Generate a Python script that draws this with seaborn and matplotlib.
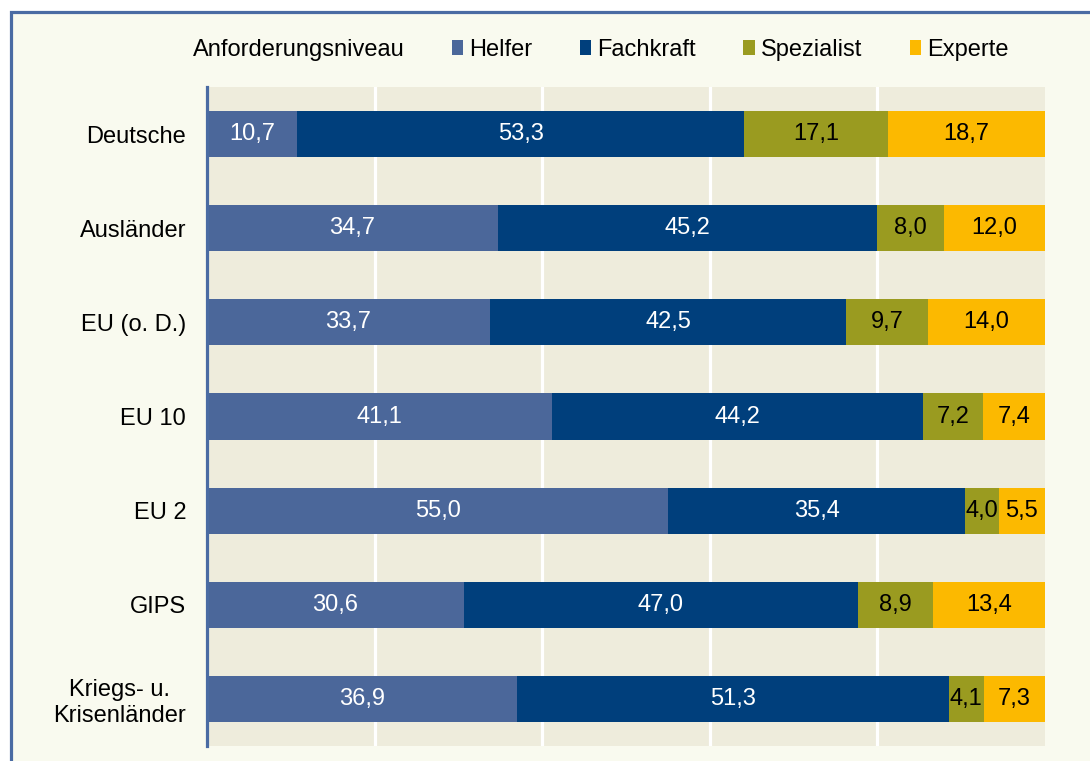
import matplotlib
matplotlib.use("Agg")
import matplotlib.pyplot as plt
from matplotlib.patches import Rectangle, Patch
from matplotlib.lines import Line2D
import seaborn as sns
import pandas as pd
import numpy as np

categories = ["Deutsche", "Ausländer", "EU (o. D.)", "EU 10", "EU 2", "GIPS",
              "Kriegs- u.\nKrisenländer"]
levels = ["Helfer", "Fachkraft", "Spezialist", "Experte"]
helfer = [10.7, 34.7, 33.7, 41.1, 55.0, 30.6, 36.9]
fachkraft = [53.3, 45.2, 42.5, 44.2, 35.4, 47.0, 51.3]
spezialist = [17.1, 8.0, 9.7, 7.2, 4.0, 8.9, 4.1]
experte = [18.7, 12.0, 14.0, 7.4, 5.5, 13.4, 7.3]
legend_title = "Anforderungsniveau"

colors = ["#4B679A", "#003F7C", "#9A9B20", "#FCB900"]
text_colors = ["white", "white", "black", "black"]

sns.set_theme(style="white")
plt.rcParams["font.family"] = ["Liberation Sans", "DejaVu Sans"]
plt.rcParams["text.color"] = "black"
plt.rcParams["ytick.color"] = "black"
plt.rcParams["ytick.labelcolor"] = "black"

vals = np.array([helfer, fachkraft, spezialist, experte])
totals = vals.sum(axis=0)
shares = vals / totals * 100.0
cums = np.cumsum(shares, axis=0)

fig = plt.figure(figsize=(10.9, 7.61), dpi=100, facecolor="white")
fig.patches.append(Rectangle((10.5 / 1090, -0.02), 1.05, 1 - 11.5 / 761 + 0.02,
                             transform=fig.transFigure, facecolor="#F9FAEF",
                             edgecolor="#4A6BA3", linewidth=2.3, zorder=-10))
ax = fig.add_axes([207 / 1090, 1 - 746 / 761, (1045 - 207) / 1090, (746 - 87) / 761])
ax.set_zorder(1)
ax.set_facecolor("#EEECDC")

for i in range(len(levels) - 1, -1, -1):
    df = pd.DataFrame({"cat": categories, "cum": cums[i]})
    sns.barplot(data=df, x="cum", y="cat", color=colors[i], width=0.49,
                saturation=1, ax=ax, orient="h", zorder=3, linewidth=0)

for i in range(len(levels)):
    for j, cat in enumerate(categories):
        center = cums[i, j] - shares[i, j] / 2
        ax.text(center, j, f"{vals[i, j]:.1f}".replace(".", ","), ha="center",
                va="center", color=text_colors[i], fontsize=17, zorder=5)

ax.set_xlim(0, 100)
ax.set_ylim(len(categories) - 0.5, -0.5)
ax.set_xticks([20, 40, 60, 80])
ax.set_xticklabels([])
ax.grid(axis="x", color="white", linewidth=2.3, zorder=1)
ax.set_axisbelow(True)
ax.set_xlabel("")
ax.set_ylabel("")
ax.tick_params(axis="y", length=0, pad=15, labelsize=17, labelcolor="black")
ax.tick_params(axis="x", length=0)
for lab in ax.get_yticklabels():
    lab.set_multialignment("center")
for s in ["top", "right", "bottom"]:
    ax.spines[s].set_visible(False)
ax.spines["left"].set_color("#4A6BA3")
ax.spines["left"].set_linewidth(2.3)
ax.spines["left"].set_zorder(6)

handles = [Patch(facecolor="none", edgecolor="none")]
labels = [legend_title]
for c, lv in zip(colors, levels):
    handles.append(Patch(facecolor=c, edgecolor="none", linewidth=0))
    labels.append(lv)
leg = fig.legend(handles, labels, ncol=5, loc="center left",
                 bbox_to_anchor=(175 / 1090, 1 - 50 / 761), frameon=False,
                 fontsize=17, handlelength=0.48, handleheight=0.56,
                 handletextpad=0.27, columnspacing=2.0, borderpad=0,
                 borderaxespad=0)
for t in leg.get_texts():
    t.set_color("black")

fig.savefig("out.png", dpi=100, facecolor=fig.get_facecolor())
